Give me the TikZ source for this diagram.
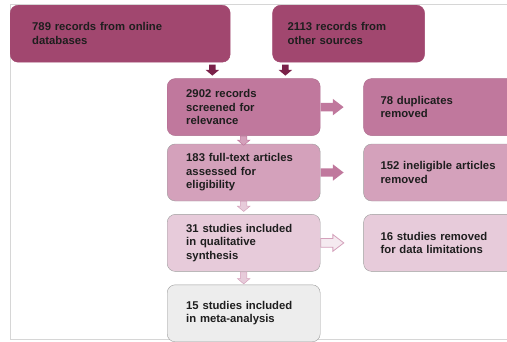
\documentclass[tikz,border=0pt]{standalone}
\usepackage{fontspec}
\setmainfont{Liberation Sans}
\usetikzlibrary{positioning, calc, shapes.arrows}

\definecolor{plumdark}{HTML}{A1476F}
\definecolor{plummid}{HTML}{C0789D}
\definecolor{plumlight}{HTML}{D4A1BB}
\definecolor{plumpale}{HTML}{E7CBDA}
\definecolor{greybox}{HTML}{EDEDED}
\definecolor{plumarrow}{HTML}{7A2149}
\definecolor{edgegrey}{HTML}{9C9C9C}
\definecolor{framegrey}{HTML}{D6D6D6}
\definecolor{textgrey}{HTML}{1E1E1E}

\begin{document}
\begin{tikzpicture}[x=1pt, y=1pt,
  box/.style={rectangle, rounded corners=8pt, minimum height=57pt, inner xsep=18pt,
    inner ysep=0pt, align=left, text=textgrey, font=\fontsize{11.3}{13.5}\selectfont\bfseries},
  fatarrow/.style={single arrow, single arrow head indent=0pt, anchor=tail},
  downarrow/.style={fatarrow, shape border rotate=270, inner sep=3pt, minimum width=12pt,
    single arrow head extend=3pt, single arrow tip angle=100},
  sidearrow/.style={fatarrow, inner sep=4pt, minimum height=23pt, minimum width=16pt,
    single arrow head extend=4pt, single arrow tip angle=75}]
  \useasboundingbox (0,0) rectangle (507,-341);

  % Frame
  \draw[framegrey, line width=0.8pt] (507,-4) -| (10,-339) -- (507,-339);

  % Sources
  \node[box, fill=plumdark, draw=plumdark, text width=176pt, inner xsep=22pt, anchor=north west]
    (db) at (10,-5) {789 records from online\\databases};
  \node[box, fill=plumdark, draw=plumdark, text width=122pt, inner xsep=15pt, right=42pt of db]
    (other) {2113 records from\\other sources};

  % Main column
  \node[box, fill=plummid, draw=plummid!90!black, text width=115pt, inner xsep=19pt,
    below right=16pt and 157pt of db.south west, anchor=north west]
    (screen) {2902 records\\screened for\\relevance};
  \node[box, fill=plumlight, draw=edgegrey, text width=115pt, inner xsep=19pt, below=8pt of screen]
    (full) {183 full-text articles\\assessed for\\eligibility};
  \node[box, fill=plumpale, draw=edgegrey, text width=115pt, inner xsep=19pt, below=13pt of full]
    (qual) {31 studies included\\in qualitative\\synthesis};
  \node[box, fill=greybox, draw=edgegrey, text width=115pt, inner xsep=19pt, below=13pt of qual]
    (meta) {15 studies included\\in meta-analysis};

  % Removed
  \node[box, fill=plummid, draw=plummid!90!black, text width=126pt, inner xsep=17pt, right=43pt of screen]
    (dup) {78 duplicates\\removed};
  \node[box, fill=plumlight, draw=edgegrey, text width=126pt, inner xsep=17pt, right=43pt of full]
    (inel) {152 ineligible articles\\removed};
  \node[box, fill=plumpale, draw=edgegrey, text width=126pt, inner xsep=17pt, right=43pt of qual]
    (lim) {16 studies removed\\for data limitations};

  % Arrows down
  \node[downarrow, fill=plumarrow, minimum height=11pt, minimum width=13pt,
    single arrow head extend=3.5pt] (a1) at ($(db.south east)+(-18,-2)$) {};
  \node[downarrow, fill=plumarrow, minimum height=11pt, minimum width=13pt,
    single arrow head extend=3.5pt] (a2) at ($(other.south west)+(13,-2)$) {};
  \node[downarrow, fill=plumlight, draw=plummid, line width=0.5pt, minimum height=8pt]
    (a3) at (screen.south) {};
  \node[downarrow, fill=plumpale, draw=plumlight, line width=0.5pt, minimum height=10pt]
    (a4) at (full.south) {};
  \node[downarrow, fill=plumpale, draw=plumlight, line width=0.5pt, minimum height=12pt]
    (a5) at (qual.south) {};

  % Arrows right
  \node[sidearrow, fill=plummid] (a6) at (screen.east) {};
  \node[sidearrow, fill=plummid] (a7) at (full.east) {};
  \node[sidearrow, fill=plumpale!40, draw=plumlight, line width=0.8pt] (a8) at (qual.east) {};
\end{tikzpicture}
\end{document}
